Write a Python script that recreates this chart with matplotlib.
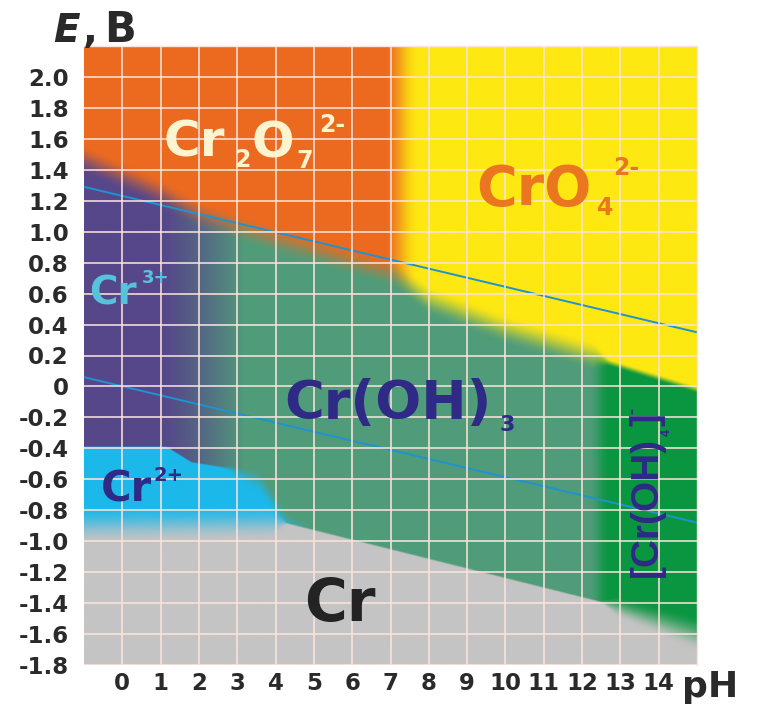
import numpy as np
import matplotlib
matplotlib.use("Agg")
import matplotlib.pyplot as plt
from matplotlib.colors import to_rgb

# stability field borders, pH -> E (V)
cr_ph = [-1.0, 4.2, 12.6, 15.0]            # metal Cr below this line
cr_e = [-0.90, -0.88, -1.40, -1.60]
ox_ph = [-1.0, 1.0, 2.0, 3.0, 4.0, 6.2, 7.1, 8.0, 10.0, 12.4, 12.7, 15.0]   # Cr(VI) above
ox_e = [1.47, 1.25, 1.11, 1.03, 0.95, 0.79, 0.73, 0.56, 0.37, 0.19, 0.155, -0.02]
cr2_ph = [-1.0, 1.15, 1.8, 2.8, 3.6, 4.3, 15.0]   # Cr2+ below this line
cr2_e = [-0.39, -0.39, -0.49, -0.53, -0.62, -0.88, -2.5]
cr3_span = [1.0, 3.2]        # Cr3+ -> Cr(OH)3
dichromate_ph = 7.28         # Cr2O7 2- -> CrO4 2-
hydroxo_ph = 12.45           # Cr(OH)3 -> [Cr(OH)4]-

# water stability lines
water_ph = [-1.0, 15.0]
o2_e = [1.29, 0.35]
h2_e = [0.06, -0.88]

e_ticks = [2.0, 1.8, 1.6, 1.4, 1.2, 1.0, 0.8, 0.6, 0.4, 0.2, 0.0,
           -0.2, -0.4, -0.6, -0.8, -1.0, -1.2, -1.4, -1.6, -1.8]
e_labels = ["2.0", "1.8", "1.6", "1.4", "1.2", "1.0", "0.8", "0.6", "0.4", "0.2", "0",
            "-0.2", "-0.4", "-0.6", "-0.8", "-1.0", "-1.2", "-1.4", "-1.6", "-1.8"]
ph_ticks = [0, 1, 2, 3, 4, 5, 6, 7, 8, 9, 10, 11, 12, 13, 14]
ph_labels = ["0", "1", "2", "3", "4", "5", "6", "7", "8", "9", "10", "11", "12", "13", "14"]

GRAY = to_rgb("#c5c4c4")
BLUE = to_rgb("#1cb8ea")
PURPLE = to_rgb("#56478a")
GREEN = to_rgb("#509c7a")
DKGREEN = to_rgb("#0a9640")
ORANGE = to_rgb("#ec6a20")
YELLOW = to_rgb("#fee812")
NAVY = "#2e2a86"


def step(d, w):
    t = np.clip(0.5 + d / (2 * w), 0, 1)
    return t * t * (3 - 2 * t)


def mix(a, b, t):
    t = t[..., None]
    return np.asarray(a) * (1 - t) + np.asarray(b) * t


ph = np.linspace(-1, 15, 1000)
e = np.linspace(-1.8, 2.2, 900)
P, E = np.meshgrid(ph, e)

w_cr = np.interp(ph, [-1, 3.9, 4.3, 12.5, 12.9, 15], [0.12, 0.12, 0.006, 0.006, 0.07, 0.12])
w_ox = np.interp(ph, [-1, 12.3, 12.7, 15], [0.10, 0.10, 0.025, 0.025])
w_ii = np.interp(ph, [-1, 2.6, 3.4, 15], [0.004, 0.004, 0.08, 0.08])

t_cr = step(E - np.interp(ph, cr_ph, cr_e), w_cr)
t_ox = step(E - np.interp(ph, ox_ph, ox_e), w_ox)
t_ii = step(E - np.interp(ph, cr2_ph, cr2_e), w_ii)
t_pg = np.clip((P - cr3_span[0]) / (cr3_span[1] - cr3_span[0]), 0, 1) ** 1.3
t_dg = step(P - hydroxo_ph, 0.28)
t_oy = step(P - dichromate_ph, 0.45)

low = mix(mix(PURPLE, GREEN, t_pg), DKGREEN, t_dg)
low = mix(BLUE, low, t_ii)
top = mix(ORANGE, YELLOW, t_oy)
img = mix(GRAY, mix(low, top, t_ox), t_cr)

fig = plt.figure(figsize=(7.58, 7.06), dpi=100)
ax = fig.add_axes([84 / 758, 41 / 706, 613 / 758, 619 / 706])
ax.imshow(img, extent=(-1, 15, -1.8, 2.2), origin="lower", aspect="auto",
          interpolation="bilinear", zorder=0)
ax.set_xlim(-1, 15)
ax.set_ylim(-1.8, 2.2)

ax.set_xticks(ph_ticks)
ax.set_xticklabels(ph_labels)
ax.set_yticks(e_ticks)
ax.set_yticklabels(e_labels)
ax.tick_params(length=0, labelsize=16.5, labelcolor="#2a2a2a")
ax.tick_params(axis="y", pad=11)
ax.tick_params(axis="x", pad=5)
for lab in ax.get_xticklabels() + ax.get_yticklabels():
    lab.set_fontweight("bold")
ax.grid(True, color="#fbe4dc", lw=1.25, alpha=0.9, zorder=1)
ax.set_axisbelow(False)
for side in ["left", "bottom"]:
    ax.spines[side].set_visible(False)
for side in ["top", "right"]:
    ax.spines[side].set_color("#fbe4dc")
    ax.spines[side].set_linewidth(1.0)

ax.plot(water_ph, o2_e, color="#1f92d0", lw=1.4, zorder=2)
ax.plot(water_ph, h2_e, color="#1f92d0", lw=1.4, zorder=2)


def chem(pieces, color, family="DejaVu Sans", rot=0):
    for s, x, y, size in pieces:
        ax.text(x, y, s, color=color, fontsize=size, fontweight="bold", family=family,
                ha="left", va="baseline", rotation=rot, rotation_mode="anchor", zorder=3)


chem([("Cr", 1.08, 1.484, 36), ("2", 2.93, 1.419, 17), ("O", 3.36, 1.477, 36),
      ("7", 4.55, 1.413, 17), ("2-", 5.15, 1.645, 17)], "#fff4d0")
chem([("CrO", 9.23, 1.174, 40), ("4", 12.39, 1.110, 17), ("2-", 12.81, 1.368, 17)], "#ea7620")
chem([("Cr", -0.86, 0.529, 28), ("3+", 0.52, 0.671, 13)], "#56c2dc")
chem([("Cr(OH)", 4.22, -0.213, 39), ("3", 9.85, -0.290, 16)], NAVY)
chem([("Cr", -0.57, -0.742, 30), ("2+", 0.81, -0.613, 14)], NAVY)
chem([("Cr", 4.74, -1.516, 42)], "#232323")
chem([("[Cr(OH)", 13.96, -1.232, 28), ("4", 14.30, -0.323, 9),
      ("]", 13.96, -0.258, 28), ("-", 13.45, -0.181, 13)], NAVY,
     family="Liberation Sans", rot=90)

fig.text(53 / 758, 1 - 42 / 706, "E", fontsize=28, fontweight="bold", style="italic",
         color="#2a2a2a", ha="left", va="baseline")
fig.text(83 / 758, 1 - 42 / 706, ",", fontsize=28, fontweight="bold",
         color="#2a2a2a", ha="left", va="baseline")
fig.text(104 / 758, 1 - 42 / 706, "B", fontsize=30, fontweight="bold",
         color="#2a2a2a", ha="left", va="baseline")
fig.text(682 / 758, 1 - 697 / 706, "pH", fontsize=26, fontweight="bold",
         color="#2a2a2a", ha="left", va="baseline")

fig.savefig("out.png", dpi=100)
